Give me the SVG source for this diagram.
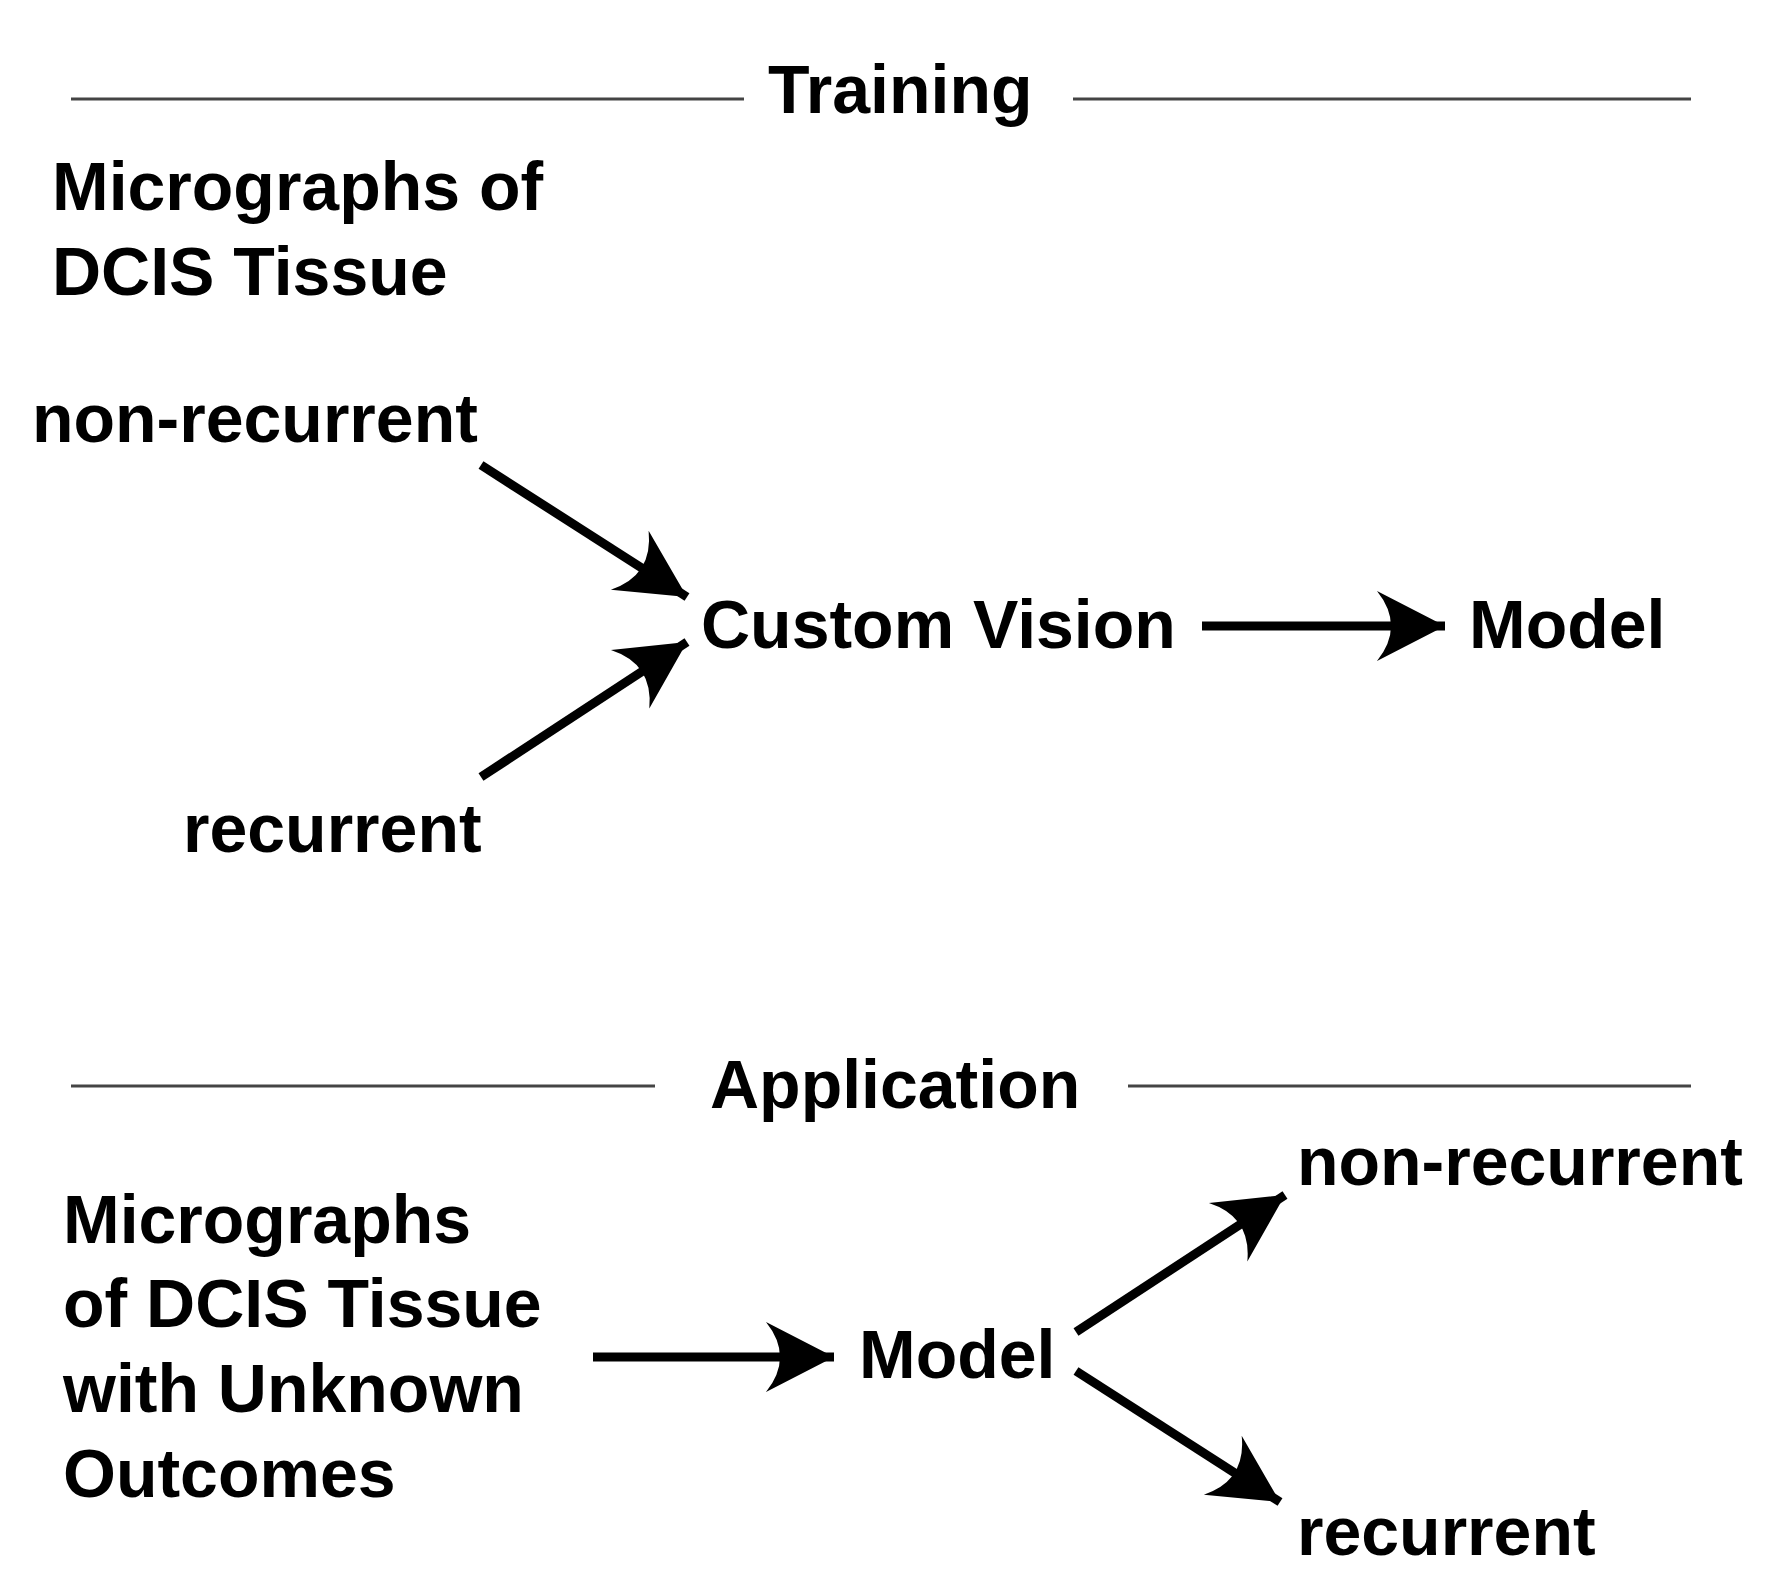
<svg xmlns="http://www.w3.org/2000/svg" width="1786" height="1581" viewBox="0 0 1786 1581">
<style>
text{font-family:"Liberation Sans",Arial,sans-serif;font-weight:bold;font-size:68px;fill:#000}
.rule{stroke:#444;stroke-width:3}
.arr{stroke:#000;stroke-width:9;fill:none;marker-end:url(#ah)}
</style>
<defs>
<marker id="ah" markerUnits="userSpaceOnUse" markerWidth="80" markerHeight="80" viewBox="-70 -40 80 80" refX="0" refY="0" orient="auto">
<path d="M0,0 L-68,-35 Q-40,0 -68,35 Z" fill="#000"/>
</marker>
</defs>
<rect width="1786" height="1581" fill="#fff"/>
<g id="training-header">
<line class="rule" x1="71" y1="99" x2="744" y2="99"/>
<line class="rule" x1="1073" y1="99" x2="1691" y2="99"/>
<text x="768" y="113">Training</text>
</g>
<g id="train-input"><text x="52" y="210">Micrographs of</text><text x="52" y="295">DCIS Tissue</text></g>
<g id="train-nonrec"><text x="32" y="442">non-recurrent</text></g>
<g id="train-rec"><text x="183" y="852">recurrent</text></g>
<g id="custom-vision"><text x="701" y="648">Custom Vision</text></g>
<g id="train-model"><text x="1469" y="648">Model</text></g>
<g id="application-header">
<line class="rule" x1="71" y1="1086" x2="655" y2="1086"/>
<line class="rule" x1="1128" y1="1086" x2="1691" y2="1086"/>
<text x="710" y="1108">Application</text>
</g>
<g id="app-input">
<text x="63" y="1243">Micrographs</text>
<text x="63" y="1327">of DCIS Tissue</text>
<text x="63" y="1412">with Unknown</text>
<text x="63" y="1497">Outcomes</text>
</g>
<g id="app-model"><text x="859" y="1378">Model</text></g>
<g id="app-nonrec"><text x="1297" y="1185">non-recurrent</text></g>
<g id="app-rec"><text x="1297" y="1555">recurrent</text></g>
<g id="connectors">
<line class="arr" x1="481" y1="465" x2="687" y2="597"/>
<line class="arr" x1="481" y1="777" x2="687" y2="642"/>
<line class="arr" x1="1202" y1="626" x2="1445" y2="626"/>
<line class="arr" x1="593" y1="1357" x2="834" y2="1357"/>
<line class="arr" x1="1076" y1="1332" x2="1285" y2="1195"/>
<line class="arr" x1="1076" y1="1371" x2="1280" y2="1502"/>
</g>
</svg>
